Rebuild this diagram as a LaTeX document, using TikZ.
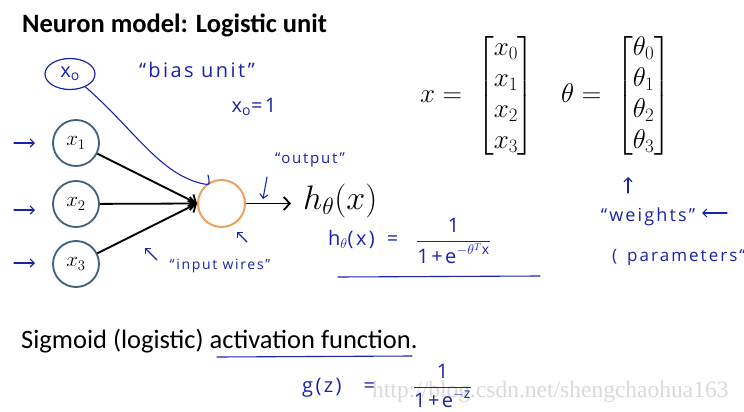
\documentclass[tikz,border=0pt]{standalone}
\usepackage{fix-cm}
\usepackage{amsmath}
\usepackage{fontspec}
\usetikzlibrary{arrows.meta,shapes.geometric}
\newfontfamily\titulofont{Carlito}
\newfontfamily\manofont[LetterSpace=12]{Open Sans}
\newfontfamily\marcafont{Liberation Serif}
\definecolor{tinta}{RGB}{25,35,170}
\definecolor{aro}{RGB}{65,95,125}
\definecolor{naranja}{RGB}{238,160,95}
\tikzset{
  entrada/.style={circle, draw=aro, line width=1.8pt, minimum size=46pt, inner sep=0pt, font=\fontsize{21}{24}\selectfont},
  flecha/.style={line width=1.8pt, -{Straight Barb[length=6pt,width=13pt]}},
  mano/.style={draw=tinta, line width=1.1pt, line cap=round},
  manoflecha/.style={mano, -{Straight Barb[length=4pt,width=8pt]}},
  nota/.style={text=tinta, inner sep=0pt, font=\manofont\fontsize{#1}{#1}\selectfont},
  nota/.default=16
}
\begin{document}
\begin{tikzpicture}[x=1pt,y=-1pt]
  \useasboundingbox (0,0) rectangle (744,412);
  \clip (0,0) rectangle (744,412);
  % Titulo
  \node[anchor=base west, inner sep=0pt, font=\titulofont\bfseries\fontsize{26.5}{30}\selectfont] (titulo) at (22,33) {Neuron model: Logistic unit};
  % Entradas y neurona
  \node[entrada] (x1) at (76,143) {$x_1$};
  \node[entrada] (x2) at (76,204) {$x_2$};
  \node[entrada] (x3) at (76,264) {$x_3$};
  \node[circle, draw=naranja, line width=2pt, minimum size=47pt] (neurona) at (221.5,203.5) {};
  \draw[flecha] (x1) -- (neurona.west);
  \draw[flecha] (x2) -- (neurona.west);
  \draw[flecha] (x3) -- (neurona.west);
  % Salida
  \draw[flecha] (neurona.east) -- ++(45,0) coordinate (salida);
  \node[anchor=west, inner sep=0pt, font=\fontsize{34}{40}\selectfont] (h) at (303,201) {$h_\theta(x)$};
  % Unidad de sesgo (a mano)
  \node[ellipse, draw=tinta, line width=1.2pt, minimum width=50pt, minimum height=31pt, nota=20] (x0) at (70,74) {x\textsubscript{o}};
  \coordinate (gancho) at (208,175);
  \draw[mano] (x0.-40) .. controls (135,130) and (160,175) .. (204,184) .. controls (210,185) .. (gancho);
  % Notas a mano
  \node[nota=20] (sesgo) at (197,70) {“bias unit”};
  \node[nota=20] (xuno) at (254,107) {x\textsubscript{o}=1};
  \node[nota=15] (etiqsalida) at (310,160) {“output”};
  \draw[manoflecha] (267,177) -- (263,199);
  \draw[manoflecha] (247,242) -- (237,232);
  \node[nota=14] (cables) at (220,266) {“input wires”};
  \draw[manoflecha] (157,260) -- (145,248);
  \foreach \n/\dy in {1/0,2/6,3/-1}
    \draw[manoflecha] ([xshift=-62pt,yshift=-\dy pt]x\n.center) -- ([xshift=-41pt,yshift=-\dy pt]x\n.center);
  % Hipotesis
  \node[nota=20, anchor=west] (hform) at (328,241) {h$_\theta$(x)\hspace{12pt}=\hspace{18pt}$\dfrac{\text{1}}{\text{1+e}^{-\theta^{T}\text{x}}}$};
  \draw[mano] (338,277) -- (540,276);
  % Vectores
  \node[anchor=west, inner sep=0pt, font=\fontsize{27}{31}\selectfont] (vecx) at (420,96) {$x = \;\begin{bmatrix}x_0\\x_1\\x_2\\x_3\end{bmatrix}$};
  \node[anchor=west, inner sep=0pt, font=\fontsize{27}{31}\selectfont] (vectheta) at (561,96) {$\theta = \;\begin{bmatrix}\theta_0\\\theta_1\\\theta_2\\\theta_3\end{bmatrix}$};
  % Pesos
  \draw[manoflecha] (628,193) -- (628,177);
  \node[nota=18] (pesos) at (648,217) {“weights”};
  \draw[manoflecha] (727,213) -- (702,213);
  \node[nota=17, anchor=west] (param) at (612,257) {(\hspace{10pt}parameters“};
  % Funcion sigmoide
  \node[anchor=base west, inner sep=0pt, font=\titulofont\fontsize{26.5}{30}\selectfont] (sigmoide) at (21,348) {Sigmoid (logistic) activation function.};
  \draw[mano] (217,357) -- (412,356);
  \node[anchor=west, inner sep=0pt, text=gray!30, font=\marcafont\fontsize{23.5}{26}\selectfont] (marca) at (372,392) {http://blog.csdn.net/shengchaohua163};
  \node[nota=20, anchor=west] (gform) at (302,386) {g(z)\hspace{22pt}=\hspace{38pt}$\dfrac{\text{1}}{\text{1+e}^{-\text{z}}}$};
\end{tikzpicture}
\end{document}
